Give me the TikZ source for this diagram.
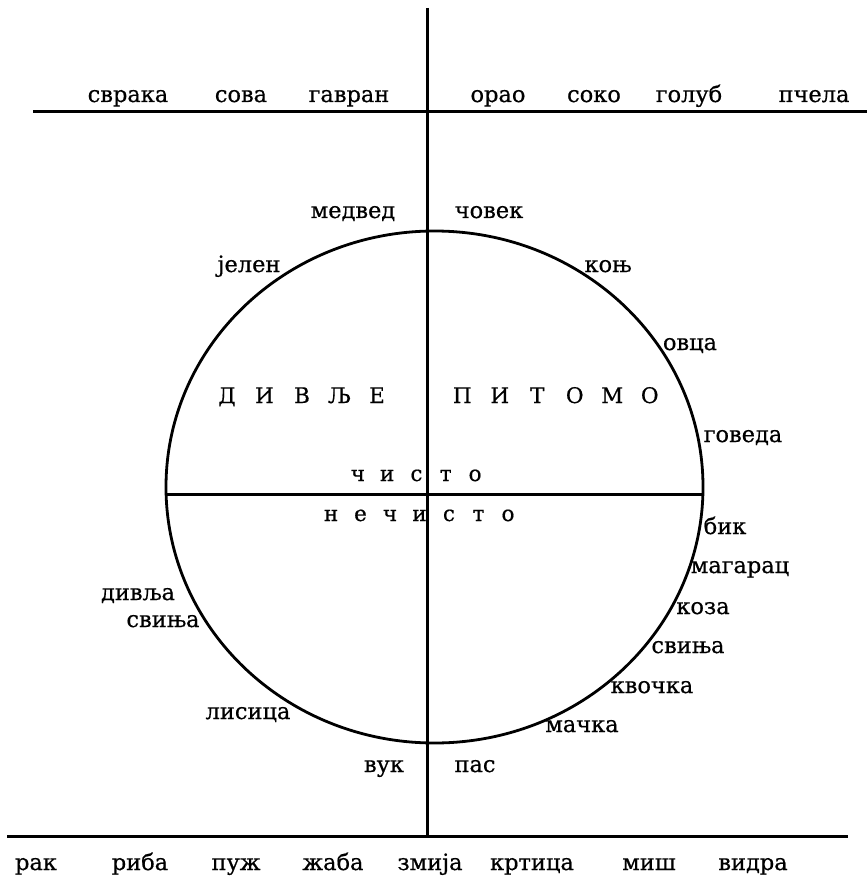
\documentclass[tikz,border=0pt]{standalone}
\usepackage{fontspec}
\setmainfont[FakeBold=0.6]{DejaVu Serif}
\usetikzlibrary{shapes.geometric}
\begin{document}
\begin{tikzpicture}[x=1pt,y=-1pt,
  lbl/.style={font=\fontsize{22.5}{26}\selectfont, inner sep=0pt, anchor=base},
  ln/.style={line width=3pt, black},
  sp/.style={font=\fontsize{21.5}{26}\selectfont, inner sep=0pt, anchor=base}]
\useasboundingbox (0,0) rectangle (867,885);
% lines
\coordinate (vtop) at (427,8);
\coordinate (vbot) at (427,836);
\coordinate (tl) at (33,112);
\coordinate (tr) at (867,112);
\coordinate (bl) at (7,836);
\coordinate (br) at (848,836);
\coordinate (hl) at (166,494);
\coordinate (hr) at (703,494);
\node[ellipse, draw, line width=2.8pt, minimum width=537pt, minimum height=512pt, inner sep=0pt] (circ) at (434.5,487) {};
\draw[ln] (vtop) -- (vbot);
\draw[ln] (tl) -- (tr);
\draw[ln] (bl) -- (br);
\draw[ln] (hl) -- (hr);
% top row
\node[lbl] (t1) at (128,102) {сврака};
\node[lbl] (t2) at (241,102) {сова};
\node[lbl] (t3) at (349,102) {гавран};
\node[lbl] (t4) at (498,102) {орао};
\node[lbl] (t5) at (594,102) {соко};
\node[lbl] (t6) at (689,102) {голуб};
\node[lbl] (t7) at (814,102) {пчела};
% bottom row
\node[lbl] (b1) at (36,870) {рак};
\node[lbl] (b2) at (140,870) {риба};
\node[lbl] (b3) at (236,870) {пуж};
\node[lbl] (b4) at (333,870) {жаба};
\node[lbl] (b5) at (430,870) {змија};
\node[lbl] (b6) at (532,870) {кртица};
\node[lbl] (b7) at (649,870) {миш};
\node[lbl] (b8) at (753,870) {видра};
% around circle
\node[lbl] (a1) at (353,218) {медвед};
\node[lbl] (a2) at (489,218) {човек};
\node[lbl] (a3) at (249,272) {јелен};
\node[lbl] (a4) at (608,272) {коњ};
\node[lbl] (a5) at (690,350) {овца};
\node[lbl] (a6) at (743,442) {говеда};
\node[lbl] (a7) at (725,534) {бик};
\node[lbl] (a8) at (740,573) {магарац};
\node[lbl] (a9) at (703,614) {коза};
\node[lbl] (a10) at (688,653) {свиња};
\node[lbl] (a11) at (652,693) {квочка};
\node[lbl] (a12) at (582,732) {мачка};
\node[lbl] (a13) at (475,772) {пас};
\node[lbl] (a14) at (384,772) {вук};
\node[lbl] (a15) at (248,719) {лисица};
\node[lbl] (a16) at (138,600) {дивља};
\node[lbl] (a17) at (163,627) {свиња};
% inside
\node[sp] (w1) at (302,403) {\makebox[37.5pt]{Д}\makebox[37.5pt]{И}\makebox[37.5pt]{В}\makebox[37.5pt]{Љ}\makebox[37.5pt]{Е}};
\node[sp] (w2) at (556,403) {\makebox[37.5pt]{П}\makebox[37.5pt]{И}\makebox[37.5pt]{Т}\makebox[37.5pt]{О}\makebox[37.5pt]{М}\makebox[37.5pt]{О}};
\node[sp] (w3) at (416.5,481) {\makebox[29.3pt]{ч}\makebox[29.3pt]{и}\makebox[29.3pt]{с}\makebox[29.3pt]{т}\makebox[29.3pt]{о}};
\node[sp] (w4) at (419.5,521) {\makebox[29.5pt]{н}\makebox[29.5pt]{е}\makebox[29.5pt]{ч}\makebox[29.5pt]{и}\makebox[29.5pt]{с}\makebox[29.5pt]{т}\makebox[29.5pt]{о}};
\end{tikzpicture}
\end{document}
